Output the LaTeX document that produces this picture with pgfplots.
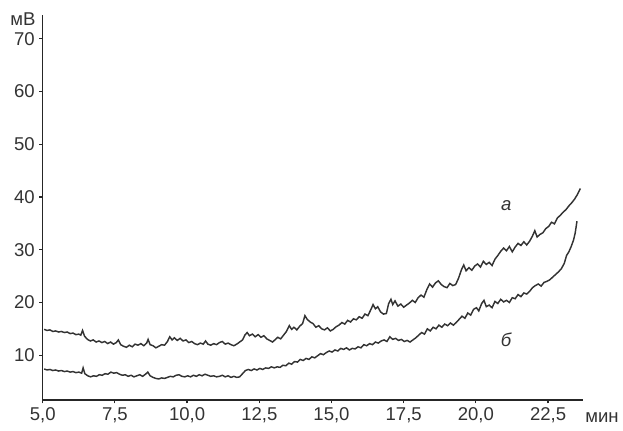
\documentclass[border=0pt]{standalone}
\usepackage{fontspec}
\setmainfont{Liberation Sans}
\usepackage{pgfplots}
\pgfplotsset{compat=1.18}
\begin{document}
\begin{tikzpicture}
\begin{axis}[
  scale only axis, width=408pt, height=291pt,
  xmin=5, xmax=23.7, ymin=1.5, ymax=74.5,
  axis lines=left, axis line style={line width=1.2pt, -, black!85},
  xtick={5,7.5,10,12.5,15,17.5,20,22.5},
  xticklabels={{5,0},{7,5},{10,0},{12,5},{15,0},{17,5},{20,0},{22,5}},
  ytick={10,20,30,40,50,60,70},
  tick align=outside, major tick length=2.5pt,
  tick style={line width=0.9pt, black!85},
  ticklabel style={font=\fontsize{14}{14}\selectfont, text=black!80},
  /pgf/number format/assume math mode=true,
  clip=false,
]
\addplot[black!80, line width=1.1pt] coordinates {
(5.05,14.9)(5.15,14.7)(5.25,14.8)(5.35,14.5)(5.45,14.6)(5.55,14.4)(5.65,14.5)(5.75,14.3)(5.85,14.4)(5.95,14.1)
(6.05,14.2)(6.15,13.9)(6.25,14.0)(6.32,13.8)(6.38,14.7)(6.45,13.6)(6.55,13.0)(6.65,12.7)(6.75,12.9)(6.85,12.5)
(6.95,12.7)(7.05,12.4)(7.15,12.6)(7.25,12.2)(7.35,12.5)(7.45,12.1)(7.55,12.4)(7.62,12.9)(7.70,12.0)(7.80,11.7)
(7.90,11.5)(8.00,11.9)(8.10,11.6)(8.20,12.1)(8.30,11.9)(8.40,12.2)(8.50,11.8)(8.60,12.3)(8.65,13.0)(8.72,12.0)
(8.82,11.8)(8.92,11.4)(9.02,11.7)(9.12,12.0)(9.22,11.9)(9.32,12.6)(9.40,13.5)(9.48,12.9)(9.56,13.3)(9.66,12.8)
(9.76,13.2)(9.86,12.7)(9.96,12.9)(10.06,12.4)(10.16,12.6)(10.26,12.2)(10.36,12.0)(10.46,12.3)(10.56,12.1)(10.64,12.7)
(10.72,12.1)(10.82,11.9)(10.92,12.2)(11.02,12.0)(11.12,12.4)(11.22,12.6)(11.32,12.1)(11.42,12.3)(11.52,12.0)(11.62,11.8)
(11.72,12.1)(11.82,12.5)(11.92,12.9)(12.00,13.8)(12.08,14.3)(12.16,13.7)(12.26,14.0)(12.36,13.5)(12.46,13.9)(12.56,13.4)
(12.66,13.7)(12.76,13.1)(12.86,12.8)(12.96,12.5)(13.04,12.9)(13.14,13.4)(13.24,13.1)(13.34,13.8)(13.44,14.5)(13.54,15.6)
(13.62,14.9)(13.70,15.3)(13.80,14.8)(13.90,15.5)(14.00,16.0)(14.08,17.5)(14.16,16.8)(14.26,16.3)(14.36,16.0)(14.46,15.3)
(14.56,15.6)(14.66,15.0)(14.76,14.8)(14.86,15.2)(14.96,14.6)(15.06,14.9)(15.16,15.4)(15.26,15.7)(15.36,16.2)(15.46,15.9)
(15.56,16.6)(15.66,16.3)(15.76,16.9)(15.86,16.7)(15.96,17.3)(16.06,17.0)(16.16,17.8)(16.26,17.5)(16.36,18.6)(16.44,19.6)
(16.52,18.8)(16.60,19.2)(16.70,18.2)(16.80,17.8)(16.90,17.9)(16.98,19.8)(17.06,20.6)(17.12,19.6)(17.20,20.3)(17.30,19.3)
(17.40,19.7)(17.50,19.1)(17.60,19.5)(17.70,19.9)(17.80,20.4)(17.90,20.0)(18.00,20.9)(18.10,21.4)(18.20,21.0)(18.30,22.4)
(18.40,23.5)(18.50,22.9)(18.60,23.7)(18.70,24.1)(18.80,23.4)(18.90,23.0)(19.00,22.8)(19.10,23.6)(19.20,23.2)(19.30,23.4)
(19.40,24.6)(19.50,26.2)(19.58,27.1)(19.66,26.0)(19.76,26.6)(19.86,26.1)(19.96,26.9)(20.06,27.3)(20.16,26.7)(20.26,27.8)
(20.36,27.2)(20.46,27.6)(20.56,27.0)(20.66,28.2)(20.76,28.9)(20.86,29.7)(20.96,30.3)(21.06,29.8)(21.16,30.6)(21.26,29.6)
(21.36,30.5)(21.46,31.2)(21.56,30.8)(21.66,31.5)(21.76,30.9)(21.86,31.6)(21.96,32.6)(22.04,33.6)(22.12,32.4)(22.22,32.9)
(22.32,33.2)(22.42,34.0)(22.52,34.4)(22.62,35.2)(22.72,34.9)(22.82,36.0)(22.92,36.5)(23.02,37.1)(23.12,37.6)(23.22,38.3)
(23.32,38.9)(23.42,39.6)(23.52,40.5)(23.62,41.6)
};
\addplot[black!80, line width=1.1pt] coordinates {
(5.05,7.4)(5.15,7.2)(5.25,7.3)(5.35,7.1)(5.45,7.2)(5.55,7.0)(5.65,7.1)(5.75,6.9)(5.85,7.0)(5.95,6.8)
(6.05,6.9)(6.15,6.7)(6.25,6.8)(6.35,6.6)(6.40,7.6)(6.46,6.5)(6.56,6.1)(6.66,5.9)(6.76,6.1)(6.86,6.0)
(6.96,6.3)(7.06,6.2)(7.16,6.5)(7.26,6.4)(7.36,6.8)(7.46,6.6)(7.56,6.7)(7.66,6.4)(7.76,6.2)(7.86,6.3)
(7.96,6.0)(8.06,6.2)(8.16,5.9)(8.26,6.1)(8.36,6.3)(8.46,6.0)(8.56,6.4)(8.64,6.8)(8.72,6.1)(8.82,5.8)
(8.92,5.6)(9.02,5.5)(9.12,5.7)(9.22,5.6)(9.32,5.8)(9.42,6.0)(9.52,5.9)(9.62,6.2)(9.72,6.3)(9.82,6.0)
(9.92,5.9)(10.02,6.1)(10.12,5.9)(10.22,6.2)(10.32,6.0)(10.42,6.3)(10.52,6.1)(10.62,6.4)(10.72,6.2)(10.82,6.0)
(10.92,6.1)(11.02,5.9)(11.12,6.0)(11.22,6.2)(11.32,5.9)(11.42,6.1)(11.52,5.8)(11.62,6.0)(11.72,5.8)(11.82,5.9)
(11.92,6.5)(12.02,7.1)(12.12,7.3)(12.22,7.1)(12.32,7.4)(12.42,7.2)(12.52,7.5)(12.62,7.3)(12.72,7.6)(12.82,7.5)
(12.92,7.8)(13.02,7.6)(13.12,7.8)(13.22,7.7)(13.32,8.1)(13.42,8.0)(13.52,8.5)(13.62,8.3)(13.72,8.8)(13.82,8.7)
(13.92,9.2)(14.02,9.0)(14.12,9.4)(14.22,9.2)(14.32,9.7)(14.42,9.5)(14.52,9.9)(14.62,10.3)(14.72,10.1)(14.82,10.5)
(14.92,10.8)(15.02,10.6)(15.12,11.0)(15.22,10.8)(15.32,11.3)(15.42,11.1)(15.52,11.4)(15.62,11.0)(15.72,11.3)(15.82,11.2)
(15.92,11.6)(16.02,11.4)(16.12,12.0)(16.22,11.8)(16.32,12.2)(16.42,12.0)(16.52,12.5)(16.62,12.3)(16.72,12.7)(16.82,12.9)
(16.92,12.6)(17.02,13.5)(17.12,13.0)(17.22,13.2)(17.32,12.8)(17.42,13.0)(17.52,12.6)(17.62,12.8)(17.72,12.5)(17.82,12.9)
(17.92,13.3)(18.02,13.8)(18.12,14.3)(18.22,14.0)(18.32,15.0)(18.42,14.6)(18.52,15.3)(18.62,15.0)(18.72,15.7)(18.82,15.3)
(18.92,15.9)(19.02,15.6)(19.12,16.1)(19.22,15.7)(19.32,16.2)(19.42,16.8)(19.52,17.4)(19.62,17.0)(19.72,18.0)(19.82,17.6)
(19.92,18.7)(20.02,19.0)(20.10,18.4)(20.20,19.8)(20.28,20.4)(20.36,19.2)(20.46,19.5)(20.56,19.0)(20.66,20.2)(20.76,19.8)
(20.86,20.6)(20.96,20.1)(21.06,20.4)(21.16,20.0)(21.26,20.9)(21.36,20.7)(21.46,21.5)(21.56,21.1)(21.66,21.8)(21.76,21.6)
(21.86,22.1)(21.96,22.8)(22.06,23.2)(22.16,23.5)(22.26,23.1)(22.36,23.8)(22.46,24.0)(22.56,24.3)(22.66,24.8)(22.76,25.3)
(22.86,25.8)(22.96,26.4)(23.06,27.4)(23.14,28.9)(23.22,29.6)(23.30,30.6)(23.38,31.8)(23.44,33.2)(23.50,35.4)
};
\node[font=\fontsize{14}{14}\selectfont\itshape, text=black!80] at (axis cs:21.05,38.4) {а};
\node[font=\fontsize{14}{14}\selectfont\itshape, text=black!80] at (axis cs:21.05,13.0) {б};
\node[font=\fontsize{14}{14}\selectfont, text=black!80] at ([xshift=-15pt,yshift=-3pt]rel axis cs:0,1) {мВ};
\node[font=\fontsize{14}{14}\selectfont, text=black!80] at ([xshift=14.5pt,yshift=-13.5pt]rel axis cs:1,0) {мин};
\end{axis}
\path (-32.25pt,-23.25pt) rectangle (435pt,302.25pt);
\end{tikzpicture}
\end{document}
